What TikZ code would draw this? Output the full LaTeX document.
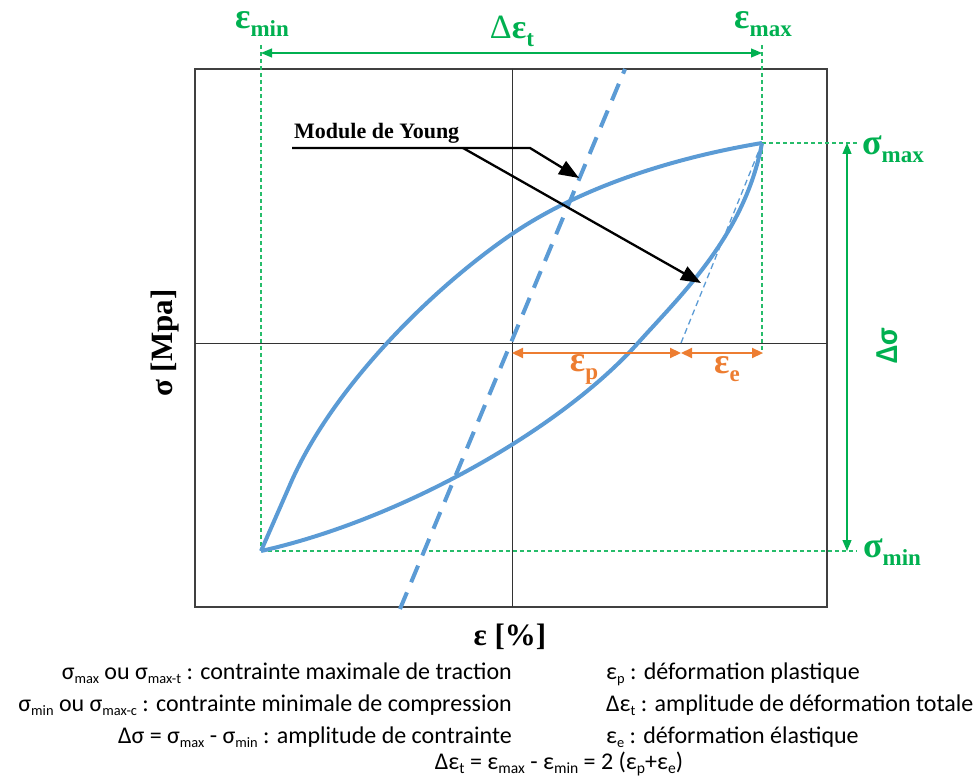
\documentclass[tikz,border=0pt]{standalone}
\usepackage{fontspec}
\usepackage{graphicx}
\setmainfont{Liberation Serif}
\newfontfamily\calfont{Carlito}
\usetikzlibrary{arrows.meta}
\definecolor{grn}{HTML}{00B050}
\definecolor{blu}{HTML}{5B9BD5}
\definecolor{org}{HTML}{ED7D31}
\newcommand\lowr[2][0.65]{\raisebox{-0.35ex}{\scalebox{#1}{#2}}}
\newcommand\gsub[1]{\raisebox{-8pt}{\fontsize{23}{25}\selectfont #1}}
\begin{document}
\begin{tikzpicture}[x=1pt,y=-1pt,
  frame/.style={draw=black!75, line width=1.3pt},
  axisln/.style={draw=black!80, line width=0.9pt},
  gdash/.style={draw=grn!85, line width=1.1pt, dash pattern=on 4pt off 3pt},
  garrow/.style={draw=grn, line width=1.2pt, {Triangle[length=11pt,width=9pt]}-{Triangle[length=11pt,width=9pt]}},
  oarrow/.style={draw=org, line width=2.2pt, {Triangle[length=11pt,width=10pt]}-{Triangle[length=11pt,width=10pt]}},
  curve/.style={draw=blu, line width=4pt, line join=round},
  young/.style={draw=blu, line width=4pt, dash pattern=on 18pt off 11pt},
  thindash/.style={draw=blu, line width=1.3pt, dash pattern=on 6pt off 4pt},
  pointer/.style={draw=black, line width=2.3pt, -{Triangle[length=20pt,width=15pt]}},
  glab/.style={text=grn, font=\fontsize{36}{38}\selectfont\bfseries, inner sep=0pt},
  olab/.style={text=org, font=\fontsize{36}{38}\selectfont\bfseries, inner sep=0pt},
  axlab/.style={font=\fontsize{31}{36}\selectfont\bfseries, inner sep=0pt},
  legend/.style={font=\calfont\fontsize{24}{28}\selectfont, inner sep=0pt}
]
\useasboundingbox (0,0) rectangle (978,778);

% key points
\coordinate (BL) at (261,551);
\coordinate (TR) at (762,143);
\coordinate (O) at (512,343);
\coordinate (Ee) at (681,343);

% frame and axes
\draw[frame] (195,69) rectangle (827,607);
\coordinate (axL) at (195,343);
\coordinate (axR) at (827,343);
\coordinate (axT) at (512,69);
\coordinate (axB) at (512,607);
\draw[axisln] (axL) -- (axR);
\draw[axisln] (axT) -- (axB);

% green guides
\coordinate (eminTop) at (261,45);
\coordinate (emaxTop) at (762,45);
\coordinate (emaxBot) at (762,353);
\coordinate (smaxEnd) at (857,143);
\coordinate (sminEnd) at (857,551);
\draw[gdash] (eminTop) -- (BL);
\draw[gdash] (emaxTop) -- (emaxBot);
\draw[gdash] (TR) -- (smaxEnd);
\draw[gdash] (BL) -- (sminEnd);

\coordinate (dl) at (261,53);
\coordinate (dr) at (762,53);
\draw[garrow] (dl) -- (dr);
\coordinate (st) at (847,143);
\coordinate (sb) at (847,551);
\draw[garrow] (st) -- (sb);

% green labels
\node[glab] (lemin) at (262,24) {ε\gsub{min}};
\node[glab, font=\fontsize{34}{38}\selectfont\bfseries] (ldet) at (512,31) {\textmd{Δ}ε\gsub{t}};
\node[glab] (lemax) at (763,24) {ε\gsub{max}};
\node[glab] (lsmax) at (893,149) {σ\gsub{max}};
\node[glab] (lsmin) at (892,552) {σ\gsub{min}};
\node[text=grn, font=\calfont\fontsize{32}{36}\selectfont\bfseries, inner sep=0pt, rotate=90] (lds) at (887,346) {Δσ};

% Young modulus lines
\coordinate (yb) at (400,609);
\coordinate (yt) at (625,69);
\draw[young] (yb) -- (yt);
\draw[thindash] (Ee) -- (TR);

% hysteresis loop
\coordinate (U1) at (289,487);
\coordinate (U2) at (512,234);
\coordinate (L1) at (638,343);
\draw[curve] (BL) -- (U1) .. controls (330,390) and (430,290) .. (U2)
  .. controls (590,181) and (690,155) .. (TR);
\draw[curve] (BL) .. controls (400,520) and (560,430) .. (L1)
  .. controls (680,296) and (745,235) .. (TR);

% orange strains
\coordinate (p0) at (512,353);
\coordinate (p1) at (681,353);
\coordinate (p2) at (763,353);
\draw[oarrow] (p0) -- (p1);
\draw[oarrow] (p1) -- (p2);
\node[olab] (lep) at (584,369) {ε\gsub{p}};
\node[olab] (lee) at (727,369) {ε\gsub{e}};

% Module de Young pointers
\node[font=\fontsize{22}{26}\selectfont\bfseries, anchor=base west, inner sep=0pt] (myt) at (294,139) {Module de Young};
\coordinate (u0) at (292,148);
\coordinate (u1) at (530,148);
\coordinate (u2) at (463,148);
\coordinate (t1) at (579,178);
\coordinate (t2) at (701,283);
\draw[pointer] (u0) -- (u1) -- (t1);
\draw[pointer] (u2) -- (t2);

% axis labels
\node[axlab, rotate=90] (ylab) at (165,343) {σ [Mpa]};
\node[axlab] (xlab) at (510,637) {ε [\%]};

% legend
\node[legend, anchor=base east] (l1) at (512,679) {σ\lowr[0.6]{max} ou σ\lowr[0.6]{max-t} : contrainte maximale de traction};
\node[legend, anchor=base east] (l2) at (512,711) {σ\lowr[0.6]{min} ou σ\lowr[0.6]{max-c} : contrainte minimale de compression};
\node[legend, anchor=base east] (l3) at (512,743) {Δσ = σ\lowr[0.6]{max} - σ\lowr[0.6]{min} : amplitude de contrainte};
\node[legend, anchor=base west] (r1) at (606,679) {ε\lowr[0.6]{p} : déformation plastique};
\node[legend, anchor=base west] (r2) at (606,711) {Δε\lowr[0.6]{t} : amplitude de déformation totale};
\node[legend, anchor=base west] (r3) at (606,743) {ε\lowr[0.6]{e} : déformation élastique};
\node[legend, anchor=base] (l4) at (559,769) {Δε\lowr[0.65]{t} = ε\lowr[0.65]{max} - ε\lowr[0.65]{min} = 2 (ε\lowr[0.65]{p}+ε\lowr[0.65]{e})};
\end{tikzpicture}
\end{document}
